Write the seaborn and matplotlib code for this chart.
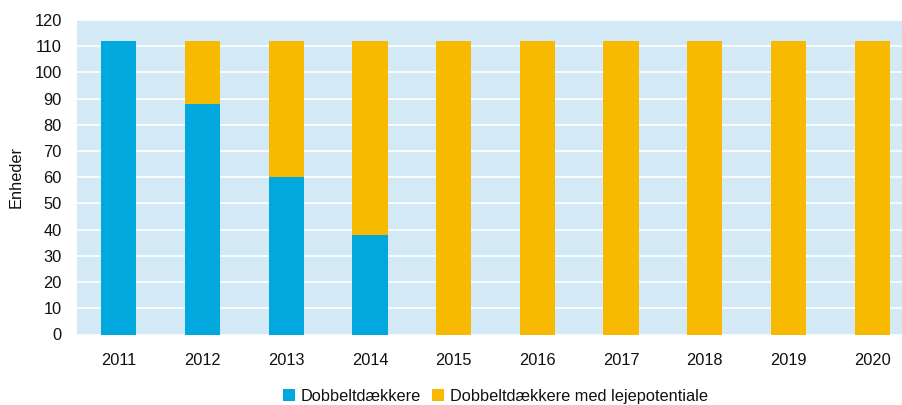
import matplotlib
matplotlib.use("Agg")
import matplotlib.pyplot as plt
import seaborn as sns
import numpy as np
import pandas as pd
from matplotlib.patches import Patch

years = ["2011", "2012", "2013", "2014", "2015", "2016", "2017", "2018", "2019", "2020"]
dobbelt = [112, 88, 60, 38, 0, 0, 0, 0, 0, 0]
leje = [0, 24, 52, 74, 112, 112, 112, 112, 112, 112]
yticks = [0, 10, 20, 30, 40, 50, 60, 70, 80, 90, 100, 110, 120]
ylabel = "Enheder"
legend_labels = ["Dobbeltdækkere", "Dobbeltdækkere med lejepotentiale"]

BLUE = "#00A8DE"
YELLOW = "#F7BA00"
BG = "#D4E9F6"
FS = 11.8

sns.set_theme(style="white")
plt.rcParams["font.family"] = ["Liberation Sans", "DejaVu Sans"]

df = pd.DataFrame({"year": years, "dobbelt": dobbelt, "leje": leje})
df["total"] = df["dobbelt"] + df["leje"]

fig = plt.figure(figsize=(9.02, 4.05), dpi=100)
W, H = 902, 405
left, right, top, bottom = 77, 914, 20, 334.5
ax = fig.add_axes([left / W, (H - bottom) / H, (right - left) / W, (bottom - top) / H])
ax.set_facecolor(BG)

sns.barplot(data=df, x="year", y="total", color=YELLOW, width=0.42, saturation=1,
            ax=ax, zorder=3, linewidth=0)
sns.barplot(data=df, x="year", y="dobbelt", color=BLUE, width=0.42, saturation=1,
            ax=ax, zorder=4, linewidth=0)

ax.set_xlim(-0.5, len(years) - 0.5)
ax.set_ylim(0, 120)
ax.set_yticks(yticks)
ax.set_yticklabels([str(v) for v in yticks])
ax.yaxis.grid(True, color="white", linewidth=1.2, zorder=1)
ax.set_axisbelow(True)
for s in ax.spines.values():
    s.set_visible(False)

ax.tick_params(axis="y", length=0, pad=11, labelsize=FS, labelcolor="#111111")
ax.tick_params(axis="x", length=0, pad=13, labelsize=FS, labelcolor="#111111")
ax.set_xticks(np.arange(-0.5, len(years) - 0.4, 1.0), minor=True)
ax.tick_params(axis="x", which="minor", direction="in", length=4, width=1, color="white")

ax.set_xlabel("")
ax.set_ylabel(ylabel, fontsize=FS, color="#111111", labelpad=8)

handles = [Patch(facecolor=BLUE, edgecolor="none"), Patch(facecolor=YELLOW, edgecolor="none")]
ax.legend(handles, legend_labels, loc="center", bbox_to_anchor=(0.5, -0.196), ncol=2,
          frameon=False, fontsize=FS, handlelength=0.7, handleheight=0.7,
          handletextpad=0.35, columnspacing=0.7, labelcolor="#111111")

fig.savefig("out.png", dpi=100)
